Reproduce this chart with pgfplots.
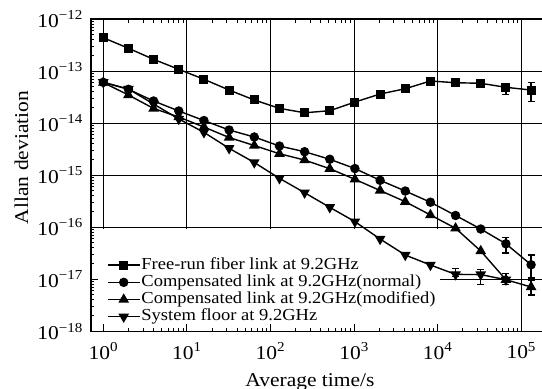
\documentclass[border=0pt]{standalone}
\usepackage{fontspec}
\setmainfont{Liberation Serif}[FakeStretch=1.1]
\usepackage{pgfplots}
\pgfplotsset{compat=1.18}
\newcommand{\lab}{\fontsize{19.6pt}{20pt}\selectfont}
\newcommand{\leg}{\fontsize{16.9pt}{17pt}\selectfont}
\begin{document}
\begin{tikzpicture}
\begin{axis}[
  scale only axis, width=452bp, height=312.3bp,
  xmode=log, ymode=log,
  xmin=0.713, xmax=1.82e5, ymin=1e-18, ymax=1e-12,
  xtick={1,10,100,1000,10000,100000},
  xticklabels={10\textsuperscript{0},10\textsuperscript{1},10\textsuperscript{2},10\textsuperscript{3},10\textsuperscript{4},10\textsuperscript{5}},
  ytick={1e-18,1e-17,1e-16,1e-15,1e-14,1e-13,1e-12},
  yticklabels={10\textsuperscript{−18},10\textsuperscript{−17},10\textsuperscript{−16},10\textsuperscript{−15},10\textsuperscript{−14},10\textsuperscript{−13},10\textsuperscript{−12}},
  ytick pos=left,
  grid=major, major grid style={black, line width=0.9bp},
  axis line style={line width=1.6bp},
  tick style={black, line width=1bp},
  major tick length=6bp, minor tick length=3.5bp,
  tick align=inside,
  ticklabel style={font=\lab},
  xticklabel style={inner sep=0pt, yshift=-11bp},
  yticklabel style={inner sep=0pt, xshift=-8bp},
  xlabel={Average time/s}, ylabel={Allan deviation},
  every axis x label/.style={at={(axis description cs:0.4845,0)}, anchor=base, yshift=-54.7bp, inner sep=0pt, font=\lab},
  every axis y label/.style={at={(axis description cs:-0.154,0.5565)}, rotate=90, anchor=center, inner sep=0pt, font=\lab},
  every axis plot/.append style={black, line width=1.4bp},
  legend cell align=left,
  legend image code/.code={\draw[mark repeat=2,mark phase=2,#1] plot coordinates {(0bp,0bp) (16bp,0bp) (32bp,0bp)};},
  legend style={draw=none, fill=none, at={(0.035,0.240)}, anchor=north west, inner sep=0pt,
    nodes={inner sep=0pt, text height=12.5bp, text depth=4.7bp, anchor=west},
    row sep=0pt, column sep=1bp, font=\leg},
]
\fill[white] (axis cs:0.864,1.365e-18) rectangle (axis cs:10600,9.44e-17);
\addplot[mark=square*, mark size=3.8bp, mark options={solid, fill=black}] coordinates {
(1,4.37e-13) (2,2.74e-13) (4,1.68e-13) (8,1.08e-13) (16,6.95e-14) (32,4.32e-14)
(64,2.78e-14) (128,1.92e-14) (256,1.58e-14) (512,1.73e-14) (1024,2.54e-14) (2048,3.62e-14)
(4096,4.58e-14) (8192,6.44e-14) (16384,5.97e-14) (32768,5.82e-14) (65536,4.87e-14) (131072,4.32e-14)};
\addlegendentry{Free-run fiber link at 9.2GHz}
\addplot[mark=*, mark size=4bp, mark options={solid, fill=black}] coordinates {
(1,6.08e-14) (2,4.46e-14) (4,2.66e-14) (8,1.71e-14) (16,1.12e-14) (32,7.37e-15)
(64,5.41e-15) (128,3.63e-15) (256,2.82e-15) (512,2.02e-15) (1024,1.34e-15) (2048,7.96e-16)
(4096,4.96e-16) (8192,3.02e-16) (16384,1.68e-16) (32768,9.23e-17) (65536,4.80e-17) (131072,1.90e-17)};
\addlegendentry{Compensated link at 9.2GHz(normal)}
\addplot[mark=triangle*, mark size=4.8bp, mark options={solid, fill=black}] coordinates {
(1,6.0e-14) (2,3.47e-14) (4,1.91e-14) (8,1.31e-14) (16,8.41e-15) (32,5.29e-15)
(64,3.71e-15) (128,2.58e-15) (256,1.95e-15) (512,1.33e-15) (1024,8.32e-16) (2048,5.07e-16)
(4096,3.09e-16) (8192,1.72e-16) (16384,9.53e-17) (32768,3.49e-17) (65536,9.80e-18) (131072,7.10e-18)};
\addlegendentry{Compensated link at 9.2GHz(modified)}
\addplot[mark=triangle*, mark size=4.8bp, mark options={solid, fill=black, rotate=180}] coordinates {
(1,6.08e-14) (2,4.52e-14) (4,2.33e-14) (8,1.20e-14) (16,6.65e-15) (32,3.28e-15)
(64,1.75e-15) (128,8.70e-16) (256,4.60e-16) (512,2.41e-16) (1024,1.28e-16) (2048,5.93e-17)
(4096,2.92e-17) (8192,1.88e-17) (16384,1.24e-17) (32768,1.23e-17) (65536,9.80e-18)};
\addlegendentry{System floor at 9.2GHz}
\addplot[forget plot, only marks, mark=none,
  error bars/.cd, y dir=both, y explicit,
  error mark options={rotate=90, mark size=3.5bp, line width=1.2bp, black},
  error bar style={line width=1.2bp, black}] coordinates {
(65536,4.87e-14) += (0,0.95e-14) -= (0,1.28e-14)
(131072,4.32e-14) += (0,1.76e-14) -= (0,1.74e-14)
(32768,9.23e-17) += (0,1.0e-17) -= (0,1.0e-17)
(65536,4.80e-17) += (0,1.54e-17) -= (0,1.61e-17)
(131072,1.90e-17) += (0,1.02e-17) -= (0,0.84e-17)
(65536,9.80e-18) += (0,3.2e-18) -= (0,2.0e-18)
(131072,7.10e-18) += (0,2.6e-18) -= (0,2.1e-18)
(16384,1.24e-17) += (0,0.35e-17) -= (0,0.11e-17)
(32768,1.23e-17) += (0,0.33e-17) -= (0,0.45e-17)};
\end{axis}
\pgfresetboundingbox
\path[use as bounding box] ([xshift=-91bp,yshift=-57.7bp]current axis.south west) rectangle ([xshift=-1bp,yshift=19bp]current axis.north east);
\end{tikzpicture}
\end{document}
